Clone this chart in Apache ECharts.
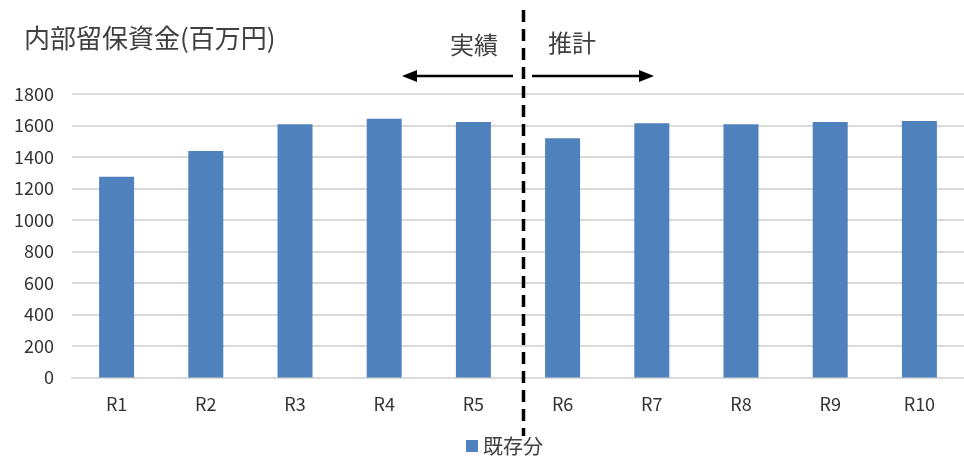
<!DOCTYPE html>
<html><head><meta charset="utf-8">
<script src="https://cdn.jsdelivr.net/npm/echarts@6/dist/echarts.min.js"></script>
<style>html,body{margin:0;padding:0;background:#fff}#c{width:964px;height:461px}</style>
</head><body><div id="c"></div>
<script>
const categories = ['R1','R2','R3','R4','R5','R6','R7','R8','R9','R10'];
const seriesName = '既存分';
const values = [1275, 1438, 1608, 1643, 1622, 1519, 1614, 1608, 1622, 1629];
const yTicks = [0, 200, 400, 600, 800, 1000, 1200, 1400, 1600, 1800];
const titleText = '内部留保資金(百万円)';
const leftNote = '実績';
const rightNote = '推計';

const FONT = '"Noto Sans CJK JP", "Noto Sans", sans-serif';
const chart = echarts.init(document.getElementById('c'));
const arrowY = 76;
chart.setOption({
  animation: false,
  backgroundColor: '#fff',
  textStyle: {fontFamily: FONT},
  grid: {left: 72, top: 94, width: 902, height: 283.5},
  legend: {
    bottom: 0, left: 461, data: [seriesName],
    itemWidth: 12, itemHeight: 12, icon: 'rect', itemGap: 6,
    textStyle: {fontSize: 20, color: '#404040', fontFamily: FONT}
  },
  xAxis: {
    type: 'category', data: categories,
    axisLine: {show: true, lineStyle: {color: '#d9d9d9', width: 2}},
    axisTick: {show: false},
    axisLabel: {fontSize: 18, color: '#333', margin: 18, fontFamily: FONT}
  },
  yAxis: {
    type: 'value', min: yTicks[0], max: yTicks[yTicks.length - 1], interval: yTicks[1] - yTicks[0],
    axisLine: {show: false}, axisTick: {show: false},
    splitLine: {lineStyle: {color: '#d9d9d9', width: 2}},
    axisLabel: {fontSize: 18, color: '#333', margin: 18, fontFamily: FONT, formatter: v => String(v)}
  },
  series: [{
    name: seriesName, type: 'bar', data: values, barWidth: 35,
    itemStyle: {color: '#4f81bd'}
  }],
  graphic: [
    {type: 'text', left: 24, top: 25, style: {text: titleText, fontSize: 26, fill: '#404040', fontFamily: FONT}},
    {type: 'text', x: 474, y: 45, style: {text: leftNote, fontSize: 24, fill: '#404040', fontFamily: FONT, align: 'center', verticalAlign: 'middle'}},
    {type: 'text', x: 572, y: 43, style: {text: rightNote, fontSize: 24, fill: '#404040', fontFamily: FONT, align: 'center', verticalAlign: 'middle'}},
    {type: 'line', shape: {x1: 523.5, y1: 10, x2: 523.5, y2: 436}, style: {stroke: '#000', lineWidth: 3.5, lineDash: [12, 7]}, z: 100},
    {type: 'line', shape: {x1: 414, y1: arrowY, x2: 513, y2: arrowY}, style: {stroke: '#000', lineWidth: 2.5}},
    {type: 'polygon', shape: {points: [[402, arrowY], [417, arrowY - 6], [417, arrowY + 6]]}, style: {fill: '#000'}},
    {type: 'line', shape: {x1: 532, y1: arrowY, x2: 641, y2: arrowY}, style: {stroke: '#000', lineWidth: 2.5}},
    {type: 'polygon', shape: {points: [[654, arrowY], [639, arrowY - 6], [639, arrowY + 6]]}, style: {fill: '#000'}}
  ]
});
</script></body></html>
